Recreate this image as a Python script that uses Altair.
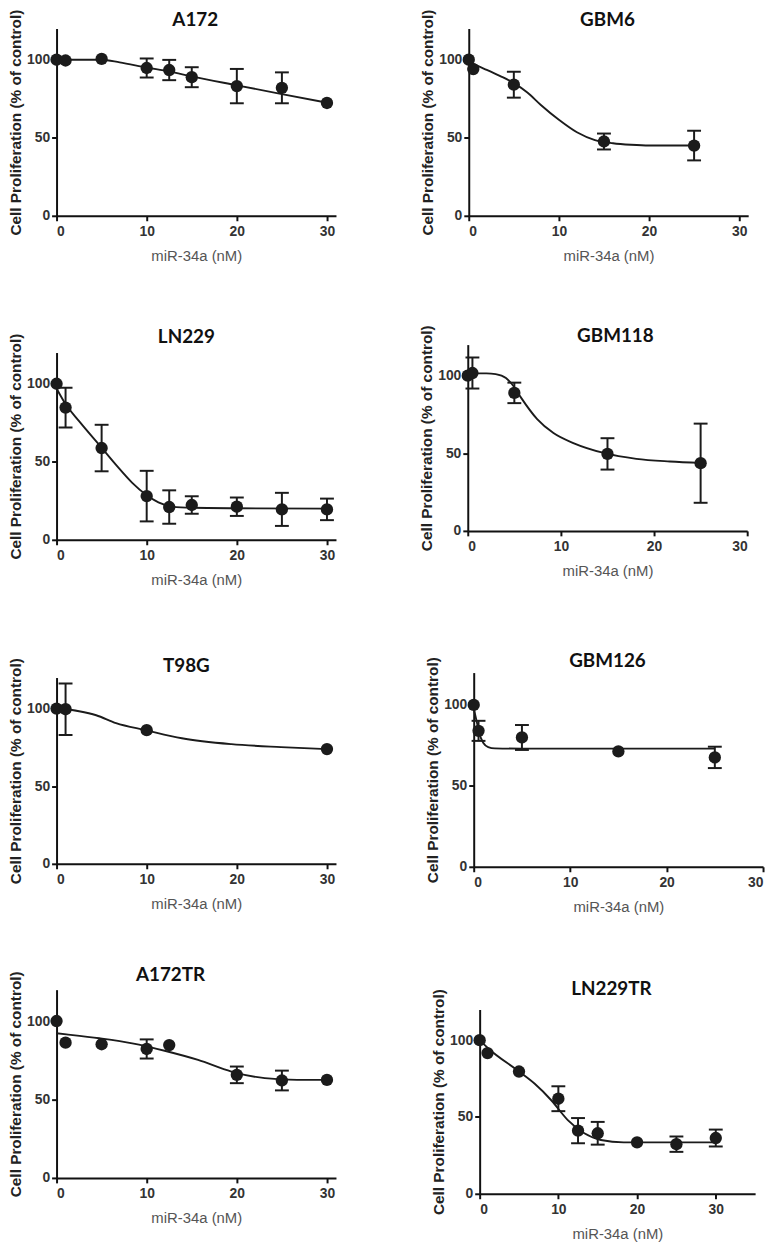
import altair as alt
import pandas as pd

# ---------------- data ----------------
NAMES = ["A172", "GBM6", "LN229", "GBM118", "T98G", "GBM126", "A172TR", "LN229TR"]

A172_DOSE = [0, 1, 5, 10, 12.5, 15, 20, 25, 30]
A172_MEAN = [100, 99.5, 100.5, 94.7, 93.4, 88.8, 83.1, 82.0, 72.3]
A172_ERR = [0, 0, 0, 6.1, 6.5, 6.4, 11.0, 9.9, 0]
A172_FIT_X = [0, 1, 5, 7, 10, 12.5, 15, 20, 25, 30]
A172_FIT_Y = [100, 100, 100, 98.3, 95, 92.5, 89.3, 83.6, 78, 72.5]

GBM6_DOSE = [0, 0.5, 5, 15, 25]
GBM6_MEAN = [100, 94, 84, 47.6, 45]
GBM6_ERR = [0, 0, 8.3, 5.1, 9.5]
GBM6_FIT_X = [0, 1, 2, 3.5, 5, 6.5, 8, 10, 12, 14, 16, 18, 20, 25]
GBM6_FIT_Y = [99, 96, 93.5, 89.5, 85, 79, 71, 61.5, 53.5, 48.5, 46.5, 45.5, 45, 45]

LN229_DOSE = [0, 1, 5, 10, 12.5, 15, 20, 25, 30]
LN229_MEAN = [100, 84.7, 58.8, 28, 21, 22.3, 21.2, 19.5, 19.5]
LN229_ERR = [0, 12.7, 14.9, 16.2, 10.7, 5.6, 5.9, 10.6, 6.9]
LN229_FIT_X = [0, 1, 2.5, 5, 6.6, 8.4, 9.9, 11.3, 12.8, 15, 20, 30]
LN229_FIT_Y = [97, 87, 76, 59, 48, 36.5, 29, 24, 21.3, 20.5, 20.2, 20]

GBM118_DOSE = [0, 0.5, 5, 15, 25]
GBM118_MEAN = [100, 101.7, 88.9, 49.6, 43.6]
GBM118_ERR = [0, 10, 6.6, 10.1, 25.5]
GBM118_FIT_X = [0, 2, 3, 4.1, 5, 5.7, 7.45, 9.2, 11.4, 14.6, 18.1, 21.7, 25]
GBM118_FIT_Y = [101.5, 101.5, 101, 98.5, 92.5, 86, 72, 63, 56.4, 50.2, 46.4, 44.7, 43.8]

T98G_DOSE = [0, 1, 10, 30]
T98G_MEAN = [100, 99.6, 86.1, 73.9]
T98G_ERR = [0, 16.6, 0, 0]
T98G_FIT_X = [0, 1.1, 2.5, 4.4, 6.6, 9.9, 13.9, 19.4, 24.9, 30]
T98G_FIT_Y = [100, 99.6, 98.3, 95.7, 90.6, 86.1, 80.9, 77.1, 75.2, 73.9]

GBM126_DOSE = [0, 0.5, 5, 15, 25]
GBM126_MEAN = [100, 84, 79.9, 71.3, 67.6]
GBM126_ERR = [0, 6.2, 7.7, 0, 6.6]
GBM126_FIT_X = [0, 0.3, 0.6, 1, 1.5, 2.2, 5, 25]
GBM126_FIT_Y = [98, 90, 82, 76.5, 74, 73.2, 73, 73]

A172TR_DOSE = [0, 1, 5, 10, 12.5, 20, 25, 30]
A172TR_MEAN = [100, 86.2, 85.2, 82.2, 84.7, 65.7, 62.1, 62.5]
A172TR_ERR = [0, 0, 0, 6.1, 0, 5.3, 6.3, 0]
A172TR_FIT_X = [0, 1.1, 4.75, 8.4, 12.1, 15.7, 19.4, 23.1, 26.7, 30]
A172TR_FIT_Y = [92.2, 91.5, 89, 85.8, 80.9, 75.2, 67.8, 63.6, 62.5, 62.5]

LN229TR_DOSE = [0, 1, 5, 10, 12.5, 15, 20, 25, 30]
LN229TR_MEAN = [100, 91.6, 79.6, 61.9, 41.1, 39.4, 33.5, 32.3, 36.3]
LN229TR_ERR = [0, 0, 0, 8.1, 8.2, 7.4, 0, 5, 5.5]
LN229TR_FIT_X = [0, 1.1, 5, 7, 9.1, 11.2, 13.3, 15.4, 18.3, 30]
LN229TR_FIT_Y = [100, 94.6, 79.6, 71.6, 60.9, 48, 39.4, 35, 33.5, 33.5]

X_TICKS = [0, 10, 20, 30]
Y_TICKS = [0, 50, 100]
X_TITLE = "miR-34a (nM)"
Y_TITLE = "Cell Proliferation (% of control)"

# ---------------- layout settings (per panel) ----------------
XMAX = [31, 31, 31, 30, 31, 30, 31, 35]
W = [282, 282, 282, 282, 282, 292, 282, 278]
H = [189, 189, 189, 188, 188, 196, 190, 186]
TITLE_DX = [-1, -1, -10, 8, -10, -11, -26, -6]
EXT_LEFT = [0, 62, 0, 61, 0, 67, 0, 73]
EXT_TOP = [20, 20, 70, 62, 71, 74, 51, 76]
TITLE_GAP = [-1, -1, 6, -1, 2, 2, 5, 11]

INK = "#1b1b1b"

SERIES = [
    (A172_DOSE, A172_MEAN, A172_ERR, A172_FIT_X, A172_FIT_Y),
    (GBM6_DOSE, GBM6_MEAN, GBM6_ERR, GBM6_FIT_X, GBM6_FIT_Y),
    (LN229_DOSE, LN229_MEAN, LN229_ERR, LN229_FIT_X, LN229_FIT_Y),
    (GBM118_DOSE, GBM118_MEAN, GBM118_ERR, GBM118_FIT_X, GBM118_FIT_Y),
    (T98G_DOSE, T98G_MEAN, T98G_ERR, T98G_FIT_X, T98G_FIT_Y),
    (GBM126_DOSE, GBM126_MEAN, GBM126_ERR, GBM126_FIT_X, GBM126_FIT_Y),
    (A172TR_DOSE, A172TR_MEAN, A172TR_ERR, A172TR_FIT_X, A172TR_FIT_Y),
    (LN229TR_DOSE, LN229TR_MEAN, LN229TR_ERR, LN229TR_FIT_X, LN229TR_FIT_Y),
]


def panel(i):
    dose, mean, err, fit_x, fit_y = SERIES[i]
    pts = pd.DataFrame({"dose": dose, "mean": mean, "err": err})
    pts["lo"] = pts["mean"] - pts["err"]
    pts["hi"] = pts["mean"] + pts["err"]
    bars = pts[pts["err"] > 0]
    fit = pd.DataFrame({"dose": fit_x, "fit": fit_y})

    xsc = alt.Scale(domain=[0, XMAX[i]], nice=False, zero=False)
    ysc = alt.Scale(domain=[0, 120], nice=False)
    xax = alt.Axis(values=X_TICKS, title=X_TITLE, format="d")
    yax = alt.Axis(values=Y_TICKS, title=Y_TITLE, format="d")
    X = alt.X("dose:Q", scale=xsc, axis=xax)

    def Y(field):
        return alt.Y(field, type="quantitative", scale=ysc, axis=yax)

    line = alt.Chart(fit).mark_line(color=INK, strokeWidth=1.9, interpolate="monotone").encode(
        x=X, y=Y("fit")
    )
    rule = alt.Chart(bars).mark_rule(color=INK, strokeWidth=2).encode(
        x=X, y=Y("lo"), y2="hi"
    )
    cap_hi = alt.Chart(bars).mark_tick(color=INK, orient="horizontal", size=14, thickness=2, opacity=1).encode(
        x=X, y=Y("hi")
    )
    cap_lo = alt.Chart(bars).mark_tick(color=INK, orient="horizontal", size=14, thickness=2, opacity=1).encode(
        x=X, y=Y("lo")
    )
    dots = alt.Chart(pts).mark_circle(color=INK, size=155, opacity=1).encode(
        x=X, y=Y("mean")
    )
    # invisible anchor that fixes how far this panel reaches left / up in the grid
    ext = alt.Chart(pd.DataFrame({"k": [0]})).mark_rule(strokeWidth=0, strokeOpacity=0).encode(
        x=alt.value(-EXT_LEFT[i]), x2=alt.value(-EXT_LEFT[i]),
        y=alt.value(-EXT_TOP[i]), y2=alt.value(-EXT_TOP[i]),
    )
    return alt.layer(line, rule, cap_lo, cap_hi, dots, ext).properties(
        width=W[i],
        height=H[i],
        title=alt.TitleParams(
            NAMES[i], font="Lato", fontSize=19, fontWeight="bold", color="#111111",
            anchor="middle", frame="group", dx=TITLE_DX[i], offset=0,
            dy=EXT_TOP[i] - TITLE_GAP[i],
        ),
    )


chart = alt.concat(
    *[panel(i) for i in range(8)],
    columns=2,
    spacing={"row": 20, "column": 72},
    align="none",
    padding={"left": 0, "top": -5, "right": 4, "bottom": 0},
).configure_view(stroke=None).configure_axis(
    grid=False,
    domainColor="#111111", domainWidth=2,
    tickColor="#111111", tickWidth=2, tickSize=5,
    labelFont="Liberation Sans", labelFontSize=14, labelFontWeight="bold", labelColor="#333333",
    titleFont="Liberation Sans",
).configure_axisX(
    labelPadding=4, titlePadding=10, titleFontSize=15, titleFontWeight="normal", titleColor="#555555",
).configure_axisY(
    labelPadding=2, titlePadding=3, titleFontSize=15.5, titleFontWeight="bold", titleColor="#222222",
)

chart.save("out.html", embed_options={"renderer": "svg", "actions": False})
